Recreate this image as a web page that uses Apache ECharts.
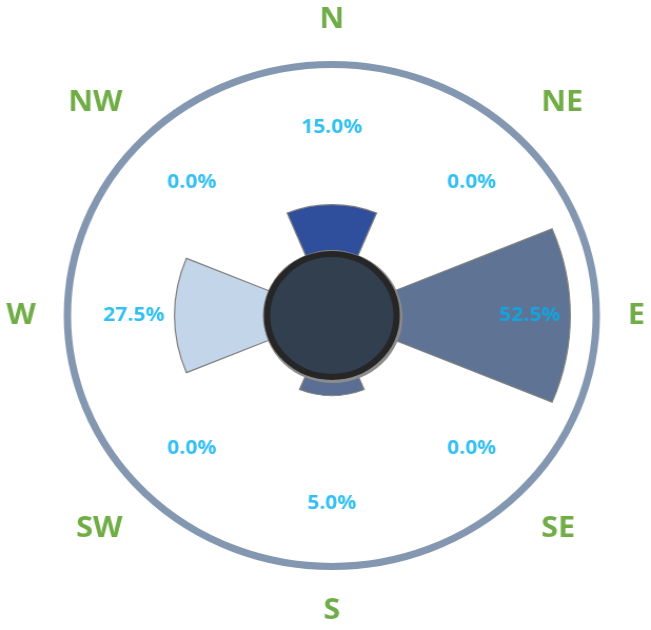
<!DOCTYPE html>
<html>
<head>
<meta charset="utf-8">
<script src="https://cdn.jsdelivr.net/npm/echarts@6/dist/echarts.min.js"></script>
<style>
html,body{margin:0;padding:0;background:#fff;overflow:hidden}
#wrap{width:651px;height:630px;overflow:hidden}
#chart{width:618px;height:630px;transform:scaleX(1.0534);transform-origin:0 0}
</style>
</head>
<body>
<div id="wrap"><div id="chart"></div></div>
<script>
// wind rose: share of time per direction (%)
var directions = ['N', 'NE', 'E', 'SE', 'S', 'SW', 'W', 'NW'];
var frequency = [15.0, 0.0, 52.5, 0.0, 5.0, 0.0, 27.5, 0.0];
var barColors = ['#2F4E9C', '#5F7394', '#5F7394', '#5F7394', '#5B6E93', '#5F7394', '#C3D5E8', '#5F7394'];

var CX = 315, CY = 315.5;
var LABEL_R = 40; // radius (in axis units) where the percent labels sit

var myChart = echarts.init(document.getElementById('chart'));

var option = {
    animation: false,
    polar: {
        center: [CX, CY],
        radius: 251
    },
    angleAxis: {
        type: 'category',
        data: directions,
        startAngle: 112.5,
        clockwise: true,
        axisLine: {
            show: true,
            lineStyle: {color: '#8497B0', width: 7}
        },
        axisTick: {show: false},
        splitLine: {show: false},
        axisLabel: {
            margin: 30,
            color: '#70AD47',
            fontSize: 29,
            fontWeight: 'bold',
            fontFamily: 'Open Sans'
        }
    },
    radiusAxis: {
        type: 'value',
        min: -21,
        max: 60.5,
        show: false,
        axisLine: {show: false},
        axisTick: {show: false},
        axisLabel: {show: false},
        splitLine: {show: false}
    },
    series: [
        {
            type: 'bar',
            coordinateSystem: 'polar',
            barCategoryGap: '0%',
            data: frequency.map(function (v, i) {
                return {value: v, itemStyle: {color: barColors[i]}};
            }),
            itemStyle: {borderColor: '#7F7F7F', borderWidth: 1.2},
            silent: true,
            z: 2
        },
        {
            type: 'scatter',
            coordinateSystem: 'polar',
            symbolSize: 1,
            itemStyle: {color: 'rgba(0,0,0,0)'},
            data: directions.map(function (d, i) { return [LABEL_R, i]; }),
            label: {
                show: true,
                position: 'inside',
                color: '#00B0F0',
                fontSize: 20,
                fontWeight: 'bold',
                fontFamily: 'Open Sans',
                formatter: function (p) {
                    return frequency[p.dataIndex].toFixed(1) + '%';
                }
            },
            silent: true,
            z: 5
        },
        {
            type: 'pie',
            center: [CX + 1, CY + 1.5],
            radius: [0, 66],
            silent: true,
            label: {show: false},
            data: [{value: 1, itemStyle: {color: '#8C8C8C'}}],
            z: 3
        },
        {
            type: 'pie',
            center: [CX, CY],
            radius: [0, 61.5],
            silent: true,
            label: {show: false},
            data: [{value: 1, itemStyle: {color: '#323F4F', borderColor: '#262626', borderWidth: 6}}],
            z: 4
        }
    ]
};
myChart.setOption(option);
</script>
</body>
</html>
